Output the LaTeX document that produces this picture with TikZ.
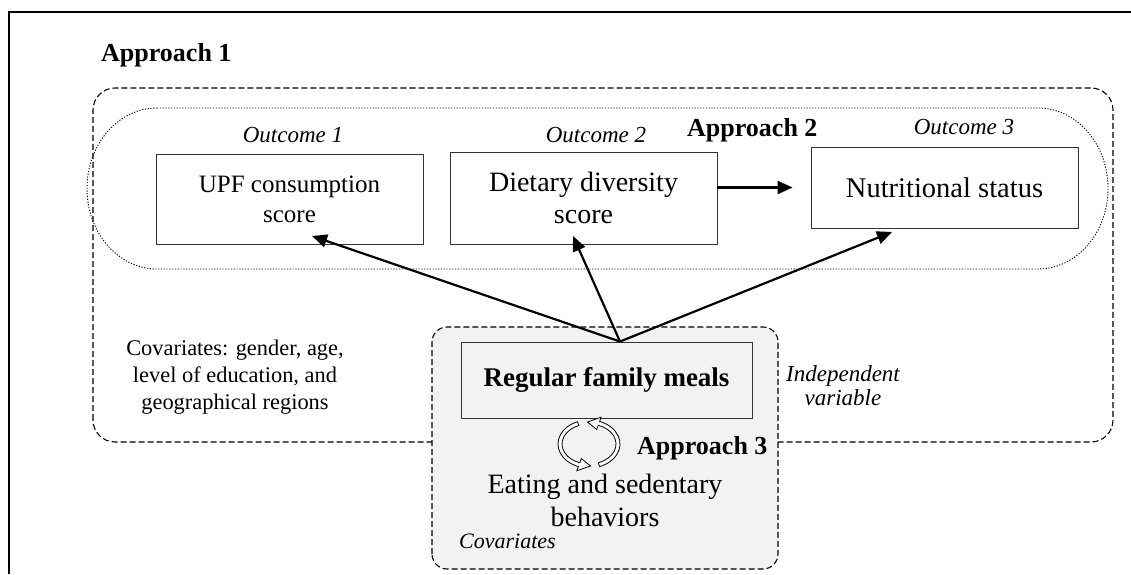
\documentclass[tikz,border=0pt]{standalone}
\usepackage{fontspec}
\setmainfont{Liberation Serif}
\usetikzlibrary{arrows.meta,calc}
\definecolor{boxgray}{RGB}{242,242,242}
\begin{document}
\begin{tikzpicture}[x=1pt,y=1pt,
  box/.style={draw=black!80, line width=0.9pt, fill=white, minimum width=267pt, align=center, inner sep=0pt},
  arr/.style={line width=2.2pt, -{Triangle[length=15pt,width=13pt]}},
  dashline/.style={dash pattern=on 6pt off 3pt, line width=1.1pt},
  dotline/.style={dash pattern=on 1.2pt off 1.6pt, line width=0.9pt},
  apprlabel/.style={font=\bfseries\fontsize{26}{30}\selectfont, anchor=base west, inner sep=0pt},
  outlabel/.style={font=\itshape\fontsize{23}{27}\selectfont, anchor=base, inner sep=0pt},
  cycarrow/.style={fill=white, draw=black, line width=0.8pt, line join=miter}]
\useasboundingbox (0,0) rectangle (1131,574);
% frame
\draw[line width=2pt] (8.5,0) -- (8.5,561.5) -- (1131,561.5);
% approach 1 region
\draw[dashline, rounded corners=22pt] (93,132) rectangle (1113,486);
% approach 2 region
\draw[dotline] (157,466) -- (1038,466)
  arc[start angle=90,end angle=-90,x radius=70,y radius=80.5]
  -- (157,305)
  arc[start angle=270,end angle=90,x radius=70,y radius=80.5] -- cycle;
% approach 3 container
\draw[dashline, fill=boxgray, rounded corners=15pt] (432,5) rectangle (778,247);
% labels
\node[apprlabel] (a1) at (101,512) {Approach 1};
\node[apprlabel] (a2) at (687,437) {Approach 2};
\node[apprlabel] (a3) at (637,120) {Approach 3};
\node[outlabel] (o1) at (293,431) {Outcome 1};
\node[outlabel] (o2) at (596,431) {Outcome 2};
\node[outlabel] (o3) at (964,439) {Outcome 3};
% boxes
\node[box, font=\fontsize{25}{30}\selectfont, minimum height=90pt] (upf) at (289.5,375) {UPF consumption\\score};
\node[box, font=\fontsize{28}{32}\selectfont, minimum height=92pt] (dds) at (583.5,376) {Dietary diversity\\score};
\node[box, font=\fontsize{28.5}{34}\selectfont, minimum height=81pt] (nut) at (944.5,386.5) {Nutritional status};
\node[box, fill=boxgray, minimum width=291pt, minimum height=76pt, font=\bfseries\fontsize{27}{32}\selectfont] (rfm) at (606.5,194) {Regular family meals};
% other texts
\node[align=center, inner sep=0pt, font=\fontsize{22.4}{27}\selectfont] (cov) at (235,197) {Covariates: gender, age,\\level of education, and\\geographical regions};
\node[align=center, inner sep=0pt, font=\itshape\fontsize{23}{24}\selectfont] (indep) at (843,188) {Independent\\variable};
\node[align=center, inner sep=0pt, font=\fontsize{28}{33}\selectfont] (eat) at (605,74) {Eating and sedentary\\behaviors};
\node[font=\itshape\fontsize{22}{26}\selectfont, anchor=base west, inner sep=0pt] (covs) at (459,26) {Covariates};
% arrows
\coordinate (apex) at ($(rfm.north)+(13.5,0)$);
\coordinate (t1) at (312,338);
\coordinate (t2) at (573,338);
\coordinate (t3) at (892,342);
\draw[arr] (apex) -- (t1);
\draw[arr] (apex) -- (t2);
\draw[arr] (apex) -- (t3);
\draw[arr, shorten >=18pt] (nut.west -| dds.east) -- (nut.west);
% cycle arrows
\coordinate (cyc) at (589,130);
\filldraw[cycarrow] ($(cyc)+(112:31 and 24)$)
  arc[start angle=112,end angle=250,x radius=31,y radius=24]
  -- ($(cyc)+(250:35.5 and 28.5)$) -- ($(cyc)+(273:29 and 22)$)
  -- ($(cyc)+(250:22.5 and 15.5)$) -- ($(cyc)+(250:27 and 20)$)
  arc[start angle=250,end angle=112,x radius=27,y radius=20] -- cycle;
\filldraw[cycarrow] ($(cyc)+(-70:31 and 24)$)
  arc[start angle=-70,end angle=70,x radius=31,y radius=24]
  -- ($(cyc)+(70:35.5 and 28.5)$) -- ($(cyc)+(93:29 and 22)$)
  -- ($(cyc)+(70:22.5 and 15.5)$) -- ($(cyc)+(70:27 and 20)$)
  arc[start angle=70,end angle=-70,x radius=27,y radius=20] -- cycle;
\end{tikzpicture}
\end{document}
